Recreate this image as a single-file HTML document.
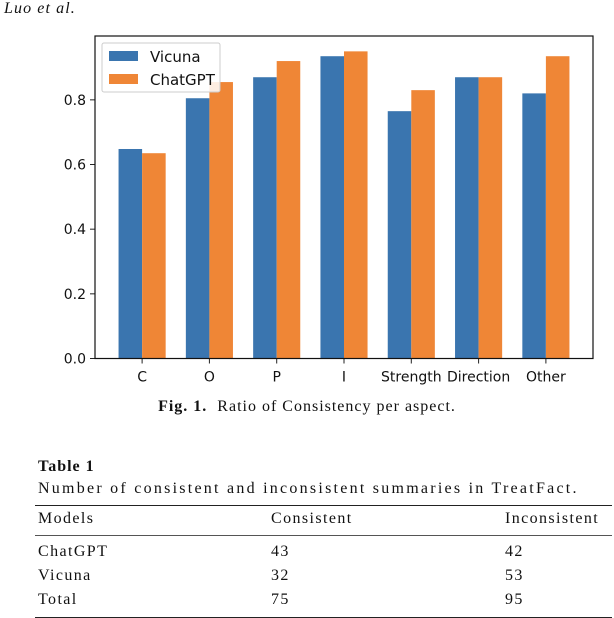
<!DOCTYPE html>
<html><head><meta charset="utf-8"><style>
body{margin:0;width:614px;height:618px;background:#fff;position:relative;overflow:hidden;font-family:"Liberation Serif",serif;color:#111}
.t{position:absolute;white-space:nowrap}
.hl{position:absolute;left:35px;width:577px;height:1px;background:#222}
#tbl .t{letter-spacing:1.4px}
</style></head><body>
<div class="t" style="left:4px;top:0px;font-size:16px;font-style:italic;letter-spacing:1.1px">Luo et al.</div>
<svg id="chart" width="614" height="400" style="position:absolute;left:0;top:0" font-family="DejaVu Sans, sans-serif"></svg>
<div class="t" style="left:0;width:614px;text-align:center;top:398px;font-size:16px;letter-spacing:1px"><b>Fig. 1.</b>&nbsp; Ratio of Consistency per aspect.</div>
<div class="t" style="left:38px;top:458px;font-size:16px;font-weight:bold;letter-spacing:1px">Table 1</div>
<div class="t" style="left:38px;top:480px;font-size:16px;letter-spacing:2.25px">Number of consistent and inconsistent summaries in TreatFact.</div>
<div class="hl" style="top:505px"></div>
<div class="hl" style="top:535px;background:#555"></div>
<div class="hl" style="top:617px"></div>
<div id="tbl" style="font-size:16px">
<div class="t" style="left:38px;top:510px">Models</div><div class="t" style="left:271px;top:510px">Consistent</div><div class="t" style="left:505px;top:510px">Inconsistent</div>
<div class="t" style="left:38px;top:543px">ChatGPT</div><div class="t" style="left:271px;top:543px">43</div><div class="t" style="left:505px;top:543px">42</div>
<div class="t" style="left:38px;top:567px">Vicuna</div><div class="t" style="left:271px;top:567px">32</div><div class="t" style="left:505px;top:567px">53</div>
<div class="t" style="left:38px;top:591px">Total</div><div class="t" style="left:271px;top:591px">75</div><div class="t" style="left:505px;top:591px">95</div>
</div>
<script>
const categories=["C","O","P","I","Strength","Direction","Other"];
const vicuna=[0.648,0.805,0.87,0.935,0.765,0.87,0.82];
const chatgpt=[0.635,0.855,0.92,0.95,0.83,0.87,0.935];
const yTicks=[0,0.2,0.4,0.6,0.8];
const yTickLabels=["0.0","0.2","0.4","0.6","0.8"];
const NS="http://www.w3.org/2000/svg";
const svg=document.getElementById('chart');
const L=95,R=593,T=36,B=358.5,yMax=0.9975;
const step=(R-L)/(categories.length-1+1.4);
const xc=i=>L+step*(0.7+i);
const y=v=>B-v/yMax*(B-T);
const bw=step*0.35;
function mk(t,a){const e=document.createElementNS(NS,t);for(const k in a)e.setAttribute(k,a[k]);svg.appendChild(e);return e;}
categories.forEach((c,i)=>{
 const b1=mk('rect',{x:xc(i)-bw,y:y(vicuna[i]),width:bw,height:B-y(vicuna[i]),fill:'#3a75af'});
 
 
 const b2=mk('rect',{x:xc(i),y:y(chatgpt[i]),width:bw,height:B-y(chatgpt[i]),fill:'#ef8636'});
 
 
 mk('line',{x1:xc(i),x2:xc(i),y1:B,y2:B+5,stroke:'#222'});
 const t=mk('text',{x:xc(i),y:B+23,'text-anchor':'middle','font-size':14,fill:'#111'});
 t.textContent=c;
 
 
});
yTicks.forEach((v,i)=>{
 mk('line',{x1:L-5,x2:L,y1:y(v),y2:y(v),stroke:'#222'});
 const t=mk('text',{x:L-9,y:y(v)+5,'text-anchor':'end','font-size':14,fill:'#111'});
 t.textContent=yTickLabels[i];
 
 
});
mk('rect',{x:L,y:T,width:R-L,height:B-T,fill:'none',stroke:'#111','stroke-width':1.2});
const lg=mk('rect',{x:102,y:43,width:118,height:49,fill:'#fff','fill-opacity':0.85,stroke:'#ccc',rx:2});


mk('rect',{x:109,y:51,width:29,height:10,fill:'#3a75af'});
mk('rect',{x:109,y:74,width:29,height:10,fill:'#ef8636'});
const l1=mk('text',{x:150,y:62,'font-size':15,fill:'#111'});l1.textContent='Vicuna';


const l2=mk('text',{x:150,y:85,'font-size':15,fill:'#111'});l2.textContent='ChatGPT';


</script>
</body></html>
